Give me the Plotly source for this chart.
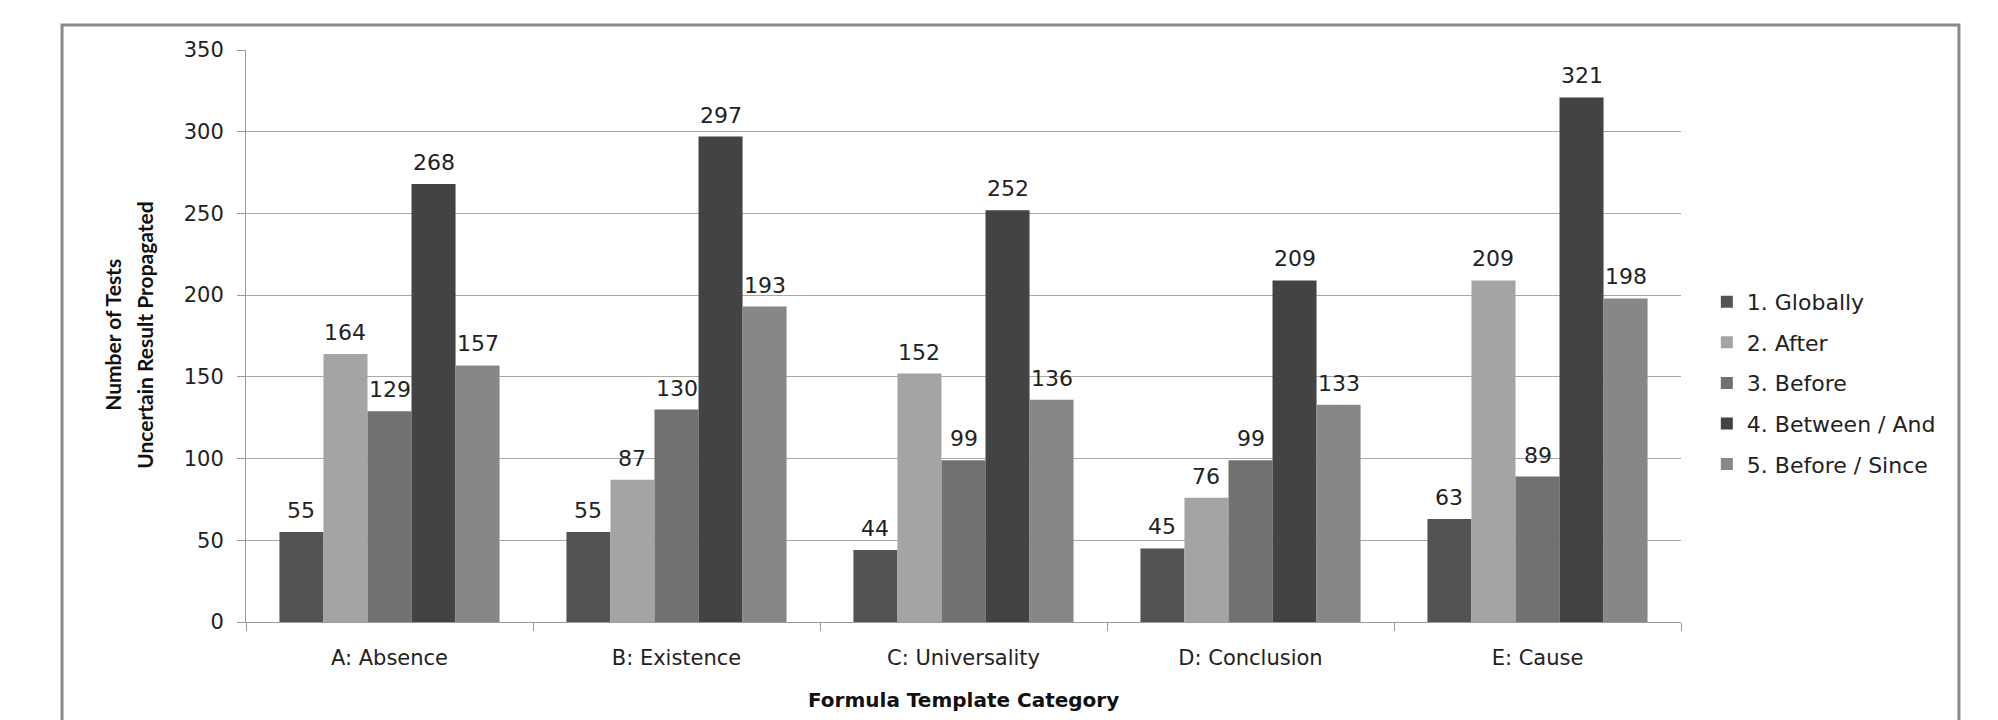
import plotly.graph_objects as go

categories = ["A: Absence", "B: Existence", "C: Universality", "D: Conclusion", "E: Cause"]
series_names = ["1. Globally", "2. After", "3. Before", "4. Between / And", "5. Before / Since"]
globally = [55, 55, 44, 45, 63]
after = [164, 87, 152, 76, 209]
before = [129, 130, 99, 99, 89]
between_and = [268, 297, 252, 209, 321]
before_since = [157, 193, 136, 133, 198]
y_ticks = [0, 50, 100, 150, 200, 250, 300, 350]

series_values = [globally, after, before, between_and, before_since]
colors = ["#535353", "#a4a4a4", "#717171", "#434343", "#878787"]

FONT = "DejaVu Sans"
BARGAP = 0.233
n = len(series_names)

fig = go.Figure()
for i, (name, vals) in enumerate(zip(series_names, series_values)):
    fig.add_trace(go.Bar(
        name=name, x=categories, y=vals,
        marker=dict(color=colors[i], line=dict(width=0)),
        legendgroup=f"g{i}",
    ))

annotations = []
w = (1 - BARGAP) / n
for i, vals in enumerate(series_values):
    for j, v in enumerate(vals):
        annotations.append(dict(
            x=j + (i - (n - 1) / 2) * w, y=v, xref="x", yref="y",
            text=str(v), showarrow=False, yanchor="bottom", yshift=7,
            font=dict(family=FONT, size=22, color="#222222"),
        ))

# axis titles
annotations += [
    dict(x=-0.0927, y=0.502, xref="paper", yref="paper", text="Number of Tests",
         textangle=-90, showarrow=False, xanchor="center", yanchor="middle",
         font=dict(family="Lato", size=21, color="#111111", weight="bold")),
    dict(x=-0.0704, y=0.502, xref="paper", yref="paper", text="Uncertain Result Propagated",
         textangle=-90, showarrow=False, xanchor="center", yanchor="middle",
         font=dict(family="Lato", size=21, color="#111111", weight="bold")),
    dict(x=0.5, y=-0.136, xref="paper", yref="paper", text="Formula Template Category",
         showarrow=False, xanchor="center", yanchor="middle",
         font=dict(family=FONT, size=20, color="#111111", weight="bold")),
]

fig.update_layout(
    width=1998, height=720,
    margin=dict(l=246, r=317, t=50, b=98),
    paper_bgcolor="white", plot_bgcolor="white",
    barmode="group", bargap=BARGAP, bargroupgap=0,
    font=dict(family=FONT, size=20, color="#222222"),
    annotations=annotations,
    showlegend=True,
    legend=dict(
        x=1.018, y=0.418, xanchor="left", yanchor="middle",
        font=dict(family=FONT, size=22, color="#222222"),
        tracegroupgap=9, bgcolor="rgba(0,0,0,0)",
    ),
    shapes=[dict(type="rect", xref="paper", yref="paper",
                 x0=-0.1282, x1=1.1937, y0=-0.4, y1=1.0437,
                 line=dict(color="#8a8a8a", width=3), layer="below")],
)

fig.update_xaxes(
    type="category", showgrid=False, showline=True, linecolor="#9a9a9a", linewidth=1,
    ticks="outside", tickson="boundaries", ticklen=8, tickcolor="#9a9a9a",
    tickfont=dict(family=FONT, size=21, color="#222222"), ticklabelstandoff=17,
)
fig.update_yaxes(
    range=[0, 350], tickvals=y_ticks, showgrid=True, gridcolor="#a8a8a8", gridwidth=1,
    showline=True, linecolor="#9a9a9a", linewidth=1, zeroline=False,
    ticks="outside", ticklen=8, tickcolor="#9a9a9a",
    tickfont=dict(family=FONT, size=21, color="#222222"), ticklabelstandoff=9,
)

fig.write_html("out.html")
